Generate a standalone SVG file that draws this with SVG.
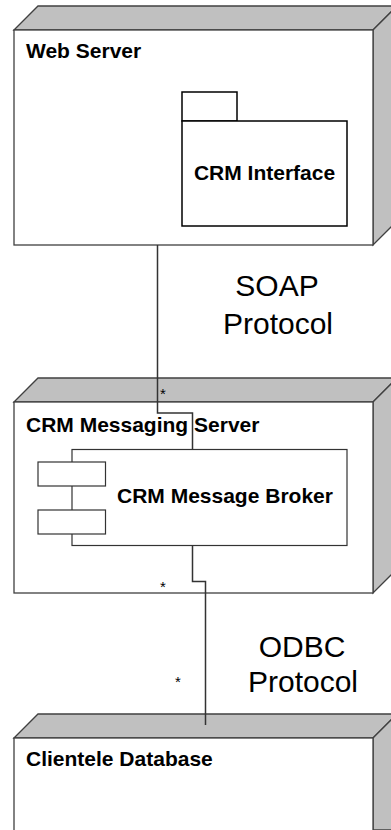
<svg xmlns="http://www.w3.org/2000/svg" width="391" height="830" viewBox="0 0 391 830">
  <style>
    .front { fill: #ffffff; stroke: #404040; stroke-width: 1.3; }
    .side { fill: #c0c0c0; stroke: #404040; stroke-width: 1.3; }
    .box { fill: #ffffff; stroke: #000000; stroke-width: 1.5; }
    .comp { fill: #ffffff; stroke: #333333; stroke-width: 1.2; }
    .title { font-family: "Liberation Sans", Arial, sans-serif; font-weight: bold; font-size: 21px; fill: #000000; }
    .label { font-family: "Liberation Sans", Arial, sans-serif; font-size: 30px; fill: #000000; }
    .mult { font-family: "Liberation Sans", Arial, sans-serif; font-size: 15px; fill: #000000; }
    .wire { fill: none; stroke: #333333; stroke-width: 1.5; }
  </style>

  <!-- Web Server node -->
  <g id="web-server">
    <polygon class="side" points="14,30 38,6 397,6 373,30"/>
    <polygon class="side" points="373,30 397,6 397,221 373,245"/>
    <rect class="front" x="14" y="30" width="359" height="215"/>
    <text class="title" x="26" y="58">Web Server</text>
  </g>

  <!-- CRM Interface package -->
  <g id="crm-interface">
    <rect class="box" x="182" y="92" width="55" height="29"/>
    <rect class="box" x="182" y="121" width="165" height="105"/>
    <text class="title" x="264.5" y="180" text-anchor="middle">CRM Interface</text>
  </g>

  <!-- CRM Messaging Server node -->
  <g id="crm-messaging-server">
    <polygon class="side" points="14,402 38,378 397,378 373,402"/>
    <polygon class="side" points="373,402 397,378 397,569 373,593"/>
    <rect class="front" x="14" y="402" width="359" height="191"/>
    <text class="title" x="26" y="432">CRM Messaging Server</text>
  </g>

  <!-- CRM Message Broker component -->
  <g id="crm-message-broker">
    <rect class="comp" x="72" y="449.5" width="275" height="96"/>
    <rect class="comp" x="38" y="462" width="67.5" height="24"/>
    <rect class="comp" x="38" y="510" width="67.5" height="24"/>
    <text class="title" x="117" y="503">CRM Message Broker</text>
  </g>

  <!-- Clientele Database node -->
  <g id="clientele-database">
    <polygon class="side" points="14,738 38,714 397,714 373,738"/>
    <polygon class="side" points="373,738 397,714 397,830 373,830"/>
    <rect class="front" x="14" y="738" width="359" height="100"/>
    <text class="title" x="26" y="766">Clientele Database</text>
  </g>

  <!-- Connectors and their labels -->
  <g id="connectors">
    <path class="wire" d="M157.5 245 V413 H192.5 V449.5"/>
    <path class="wire" d="M192.5 545.5 V581.5 H205.5 V725"/>
    <text class="mult" x="163" y="399" text-anchor="middle">*</text>
    <text class="mult" x="163" y="591.5" text-anchor="middle">*</text>
    <text class="mult" x="178" y="687" text-anchor="middle">*</text>
    <text class="label" x="277" y="296" text-anchor="middle">SOAP</text>
    <text class="label" x="278" y="334" text-anchor="middle">Protocol</text>
    <text class="label" x="302" y="657" text-anchor="middle">ODBC</text>
    <text class="label" x="303" y="692" text-anchor="middle">Protocol</text>
  </g>
</svg>
